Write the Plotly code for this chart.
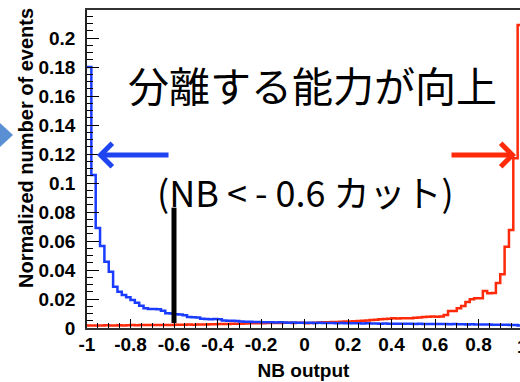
import numpy as np
import plotly.graph_objects as go

# NB output histograms: 100 bins on [-1, 1], normalised to unit area
bin_lo, bin_hi, n_bins = -1.0, 1.0, 100

# background-like sample (peaks at -1)
blue_counts = [
    0.1800, 0.1055, 0.0690, 0.0566, 0.0457, 0.0388, 0.0285, 0.0250, 0.0228, 0.0212,
    0.0193, 0.0175, 0.0154, 0.0136, 0.0131, 0.0131, 0.0129, 0.0119, 0.0102, 0.0100,
    0.0094, 0.0093, 0.0088, 0.0076, 0.0074, 0.0073, 0.0064, 0.0062, 0.0061, 0.0062,
    0.0060, 0.0052, 0.0050, 0.0050, 0.0049, 0.0044, 0.0043, 0.0043, 0.0042, 0.0041,
    0.0040, 0.0039, 0.0039, 0.0038, 0.0039, 0.0038, 0.0037, 0.0038, 0.0037, 0.0037,
    0.0036, 0.0036, 0.0035, 0.0036, 0.0035, 0.0034, 0.0034, 0.0033, 0.0034, 0.0033,
    0.0033, 0.0032, 0.0032, 0.0031, 0.0032, 0.0031, 0.0031, 0.0030, 0.0031, 0.0030,
    0.0030, 0.0029, 0.0030, 0.0029, 0.0029, 0.0028, 0.0029, 0.0028, 0.0028, 0.0027,
    0.0028, 0.0027, 0.0027, 0.0026, 0.0027, 0.0026, 0.0026, 0.0025, 0.0026, 0.0025,
    0.0025, 0.0024, 0.0024, 0.0023, 0.0023, 0.0022, 0.0022, 0.0021, 0.0020, 0.0018,
]

# signal-like sample (peaks at +1)
red_counts = [
    0.0018, 0.0018, 0.0017, 0.0018, 0.0019, 0.0018, 0.0018, 0.0019, 0.0018, 0.0019,
    0.0020, 0.0019, 0.0020, 0.0021, 0.0020, 0.0020, 0.0021, 0.0020, 0.0021, 0.0021,
    0.0022, 0.0023, 0.0022, 0.0024, 0.0023, 0.0024, 0.0025, 0.0024, 0.0026, 0.0026,
    0.0027, 0.0028, 0.0028, 0.0029, 0.0030, 0.0030, 0.0031, 0.0032, 0.0032, 0.0033,
    0.0033, 0.0034, 0.0034, 0.0035, 0.0035, 0.0036, 0.0036, 0.0035, 0.0036, 0.0037,
    0.0033, 0.0034, 0.0036, 0.0038, 0.0039, 0.0040, 0.0041, 0.0042, 0.0043, 0.0044,
    0.0045, 0.0046, 0.0048, 0.0050, 0.0052, 0.0055, 0.0057, 0.0060, 0.0062, 0.0064,
    0.0067, 0.0066, 0.0067, 0.0068, 0.0067, 0.0070, 0.0072, 0.0076, 0.0078, 0.0080,
    0.0078, 0.0080, 0.0090, 0.0117, 0.0118, 0.0136, 0.0152, 0.0180, 0.0198, 0.0205,
    0.0205, 0.0255, 0.0240, 0.0242, 0.0310, 0.0370, 0.0560, 0.0676, 0.1170, 0.2090,
]

x_tick_vals = [-1.0, -0.8, -0.6, -0.4, -0.2, 0.0, 0.2, 0.4, 0.6, 0.8]
x_tick_text = ["-1", "-0.8", "-0.6", "-0.4", "-0.2", "0", "0.2", "0.4", "0.6", "0.8"]
y_tick_vals = [0.0, 0.02, 0.04, 0.06, 0.08, 0.1, 0.12, 0.14, 0.16, 0.18, 0.2]
y_tick_text = ["0", "0.02", "0.04", "0.06", "0.08", "0.1", "0.12", "0.14", "0.16", "0.18", "0.2"]

nb_cut = -0.6
cut_line_span = [0.0034, 0.083]

x_title = "NB output"
y_title = "Normalized number of events"
title_text = "分離する能力が向上"
cut_text = "(NB < - 0.6 カット)"

edges = np.linspace(bin_lo, bin_hi, n_bins + 1)


def step_trace(counts, colour):
    ys = list(counts) + [counts[-1]]
    return go.Scatter(
        x=edges, y=ys, mode="lines", line=dict(shape="hv", color=colour, width=2.5),
        hoverinfo="skip", showlegend=False,
    )


fig = go.Figure()
fig.add_trace(step_trace(red_counts, "#ff2a0a"))
fig.add_trace(step_trace(blue_counts, "#1a3cff"))

W, H = 520, 382
ml, mr, mt, mb = 87, 0, 10, 54
pw, ph = W - ml - mr, H - mt - mb


def px(xp):
    return (xp - ml) / pw


def py(yp):
    return (H - mb - yp) / ph


axis_font = dict(family="Liberation Sans", size=19, color="black", weight=700)

fig.update_layout(
    width=W, height=H,
    margin=dict(l=ml, r=mr, t=mt, b=mb),
    paper_bgcolor="white", plot_bgcolor="white",
    xaxis=dict(
        range=[-1.0, -1.0 + pw / 217.5],
        tickmode="array", tickvals=x_tick_vals, ticktext=x_tick_text,
        ticks="inside", ticklen=9, tickwidth=1.2, tickcolor="black",
        minor=dict(dtick=0.05, tick0=-1.0, ticks="inside", ticklen=5, tickwidth=1, tickcolor="black", showgrid=False),
        showgrid=False, zeroline=False,
        showline=True, linecolor="#333", linewidth=1.5, mirror=True,
        tickfont=axis_font, ticklabelstandoff=-2,
        title=dict(text=x_title, font=axis_font, standoff=10),
    ),
    yaxis=dict(
        range=[0.0, ph / 1450.0],
        tickmode="array", tickvals=y_tick_vals, ticktext=y_tick_text,
        ticks="inside", ticklen=12, tickwidth=1.2, tickcolor="black",
        minor=dict(dtick=0.005, tick0=0.0, ticks="inside", ticklen=6, tickwidth=1, tickcolor="black", showgrid=False),
        showgrid=False, zeroline=False,
        showline=True, linecolor="#222", linewidth=1.5, mirror=False,
        tickfont=axis_font, ticklabelstandoff=6,
    ),
)

# y-axis title, right-aligned to the top of the frame
fig.add_annotation(xref="paper", yref="paper", x=px(26), y=py(148), text=y_title,
                   textangle=-90, showarrow=False, xanchor="center", yanchor="middle",
                   font=dict(family="Liberation Sans", size=20, color="black", weight=700))

# cut position
fig.add_shape(type="line", xref="x", yref="y", x0=nb_cut, x1=nb_cut,
              y0=cut_line_span[0], y1=cut_line_span[1], line=dict(color="black", width=5))

# slide arrow peeking in from the left
fig.add_shape(type="path", xref="paper", yref="paper",
              path=f"M {px(0)} {py(123)} L {px(13)} {py(135)} L {px(0)} {py(147)} Z",
              fillcolor="#5b8fd4", line=dict(width=0))

# pointer arrows
fig.add_annotation(xref="paper", yref="paper", x=px(97), y=py(155), ax=73, ay=0,
                   text="", showarrow=True, arrowhead=4, arrowsize=0.9, arrowwidth=5,
                   arrowcolor="#1f45f0")
fig.add_annotation(xref="paper", yref="paper", x=px(516), y=py(155), ax=-66, ay=0,
                   text="", showarrow=True, arrowhead=4, arrowsize=0.9, arrowwidth=5,
                   arrowcolor="#ff2a0a")

jp_font = dict(family="Noto Sans CJK JP", color="black")
fig.add_annotation(xref="paper", yref="paper", x=px(312), y=py(84), text=title_text,
                   showarrow=False, xanchor="center", yanchor="middle",
                   font=dict(**jp_font, size=41))
fig.add_annotation(xref="paper", yref="paper", x=px(305), y=py(191), text=cut_text,
                   showarrow=False, xanchor="center", yanchor="middle",
                   font=dict(**jp_font, size=36))

# partially visible last x tick label
fig.add_annotation(xref="paper", yref="paper", x=px(522), y=py(346), text="1",
                   showarrow=False, xanchor="center", yanchor="middle", font=axis_font)

fig.write_html("out.html")
